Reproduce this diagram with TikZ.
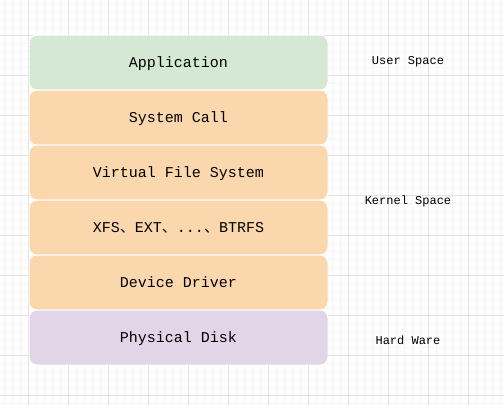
\documentclass[tikz,border=0pt]{standalone}
\usepackage{fontspec}
\setmonofont{Liberation Mono}
\newfontfamily\cjk{Noto Sans CJK SC}
\definecolor{gminor}{HTML}{F4F4F4}
\definecolor{gmajor}{HTML}{E2E2E2}
\definecolor{ugreen}{HTML}{D5E8D4}
\definecolor{korange}{HTML}{FAD7AC}
\definecolor{hpurple}{HTML}{E1D5E7}
\tikzset{
  layer/.style={draw=white, line width=1pt, rounded corners=8pt,
    minimum width=299pt, minimum height=55pt, inner sep=0pt, text depth=0pt,
    font=\fontsize{15}{18}\selectfont\ttfamily, text=black},
  side/.style={inner sep=0pt, text depth=0pt, font=\fontsize{12}{14}\selectfont\ttfamily, text=black}
}
\begin{document}
\begin{tikzpicture}[x=1pt,y=-1pt]
\useasboundingbox (0,0) rectangle (504,405);
\fill[white] (0,0) rectangle (504,405);
% minor grid
\foreach \x in {4,12,...,500} \draw[gminor, line width=1pt] (\x,0) -- (\x,405);
\foreach \y in {3,11,...,403} \draw[gminor, line width=1pt] (0,\y) -- (504,\y);
% major grid
\foreach \x in {28,68,...,500} \draw[gmajor, line width=1pt] (\x,0) -- (\x,405);
\foreach \y in {35,75,...,403} \draw[gmajor, line width=1pt] (0,\y) -- (504,\y);
% layers
\node[layer, fill=ugreen]  (app)  at (178.5,62.5)  {Application};
\node[layer, fill=korange] (sys)  at (178.5,117.5) {System Call};
\node[layer, fill=korange] (vfs)  at (178.5,172.5) {Virtual File System};
\node[layer, fill=korange] (fs)   at (178.5,227.5) {XFS{\cjk 、}EXT{\cjk 、}...{\cjk 、}BTRFS};
\node[layer, fill=korange] (drv)  at (178.5,282.5) {Device Driver};
\node[layer, fill=hpurple] (disk) at (178.5,337.5) {Physical Disk};
% side labels
\node[side] (user)   at (408,60)  {User Space};
\node[side] (kernel) at (408,200) {Kernel Space};
\node[side] (hw)     at (408,340) {Hard Ware};
\end{tikzpicture}
\end{document}
